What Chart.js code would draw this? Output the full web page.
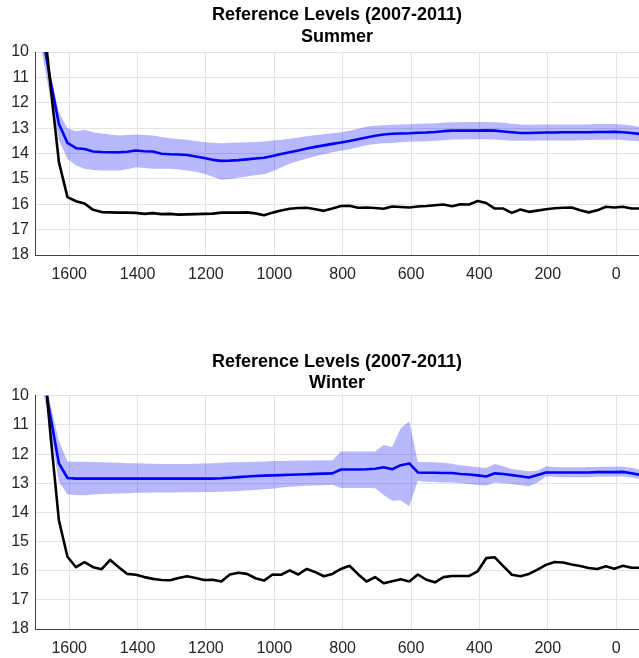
<!DOCTYPE html>
<html><head><meta charset="utf-8">
<script src="https://cdn.jsdelivr.net/npm/chart.js@4.4.0/dist/chart.umd.min.js"></script>
<style>
html,body{margin:0;padding:0;background:#fff;overflow:hidden;width:639px;height:658px;}
.panel{position:absolute;left:0;width:639px;}
canvas{display:block;}
</style></head><body>
<div class="panel" style="top:0;height:290px"><canvas id="c1" width="639" height="290"></canvas></div>
<div class="panel" style="top:344px;height:320px"><canvas id="c2" width="639" height="320"></canvas></div>
<script>
const mainTitle = "Reference Levels (2007-2011)";
const panelNames = ["Summer", "Winter"];
const xTickValues = [1600, 1400, 1200, 1000, 800, 600, 400, 200, 0];

const depths = [1680,1655,1630,1605,1580,1555,1530,1505,1480,1455,
1430,1405,1380,1355,1330,1305,1280,1255,1230,1205,
1180,1155,1130,1105,1080,1055,1030,1005,980,955,
930,905,880,855,830,805,780,755,730,705,
680,655,630,605,580,555,530,505,480,455,
430,405,380,355,330,305,280,255,230,205,
180,155,130,105,80,55,30,5,-20,-45,
-70];

const summerBlack = [8.0,11.3,14.34,15.72,15.88,15.97,16.22,16.31,16.32,16.33,
16.33,16.34,16.38,16.35,16.39,16.38,16.41,16.40,16.39,16.38,
16.37,16.33,16.33,16.33,16.32,16.36,16.43,16.33,16.25,16.18,
16.15,16.14,16.20,16.26,16.17,16.07,16.06,16.14,16.13,16.15,
16.18,16.09,16.11,16.13,16.09,16.07,16.04,16.01,16.08,16.00,
16.01,15.87,15.95,16.17,16.17,16.34,16.21,16.30,16.25,16.20,
16.16,16.14,16.13,16.24,16.32,16.24,16.10,16.13,16.10,16.17,
16.17];

const summerBlue = [9.2,11.1,12.84,13.58,13.79,13.82,13.92,13.94,13.95,13.95,
13.93,13.88,13.91,13.92,14.01,14.03,14.04,14.06,14.12,14.18,
14.25,14.29,14.28,14.26,14.23,14.20,14.17,14.10,14.02,13.95,
13.88,13.80,13.74,13.68,13.62,13.57,13.51,13.44,13.37,13.30,
13.25,13.22,13.21,13.20,13.18,13.17,13.15,13.12,13.10,13.10,
13.10,13.10,13.09,13.10,13.13,13.16,13.19,13.19,13.18,13.17,
13.17,13.16,13.16,13.16,13.16,13.15,13.15,13.14,13.16,13.19,
13.23];

const summerUpper = [8.5,10.87,12.38,13.00,13.12,13.06,13.16,13.21,13.25,13.29,
13.27,13.25,13.27,13.29,13.35,13.40,13.43,13.46,13.51,13.56,
13.58,13.60,13.58,13.57,13.56,13.55,13.53,13.49,13.46,13.42,
13.37,13.32,13.28,13.24,13.20,13.16,13.10,13.02,12.95,12.91,
12.89,12.87,12.86,12.85,12.83,12.82,12.81,12.79,12.77,12.77,
12.76,12.76,12.76,12.77,12.79,12.83,12.86,12.87,12.86,12.86,
12.86,12.86,12.86,12.86,12.85,12.84,12.84,12.84,12.86,12.90,
12.95];

const summerLower = [10.0,11.79,13.49,14.21,14.47,14.60,14.65,14.67,14.67,14.67,
14.62,14.54,14.57,14.60,14.60,14.60,14.63,14.67,14.72,14.80,
14.92,15.03,15.00,14.96,14.91,14.86,14.82,14.70,14.55,14.40,
14.30,14.20,14.11,14.03,13.95,13.89,13.83,13.75,13.67,13.63,
13.60,13.59,13.56,13.54,13.53,13.52,13.50,13.48,13.45,13.45,
13.44,13.44,13.44,13.45,13.47,13.50,13.50,13.50,13.49,13.49,
13.49,13.49,13.49,13.48,13.47,13.46,13.46,13.45,13.47,13.50,
13.52];

const winterBlack = [8.0,11.3,14.28,15.52,15.88,15.71,15.88,15.95,15.63,15.88,
16.11,16.14,16.22,16.28,16.32,16.33,16.25,16.19,16.25,16.32,
16.31,16.37,16.13,16.07,16.11,16.26,16.34,16.13,16.14,15.99,
16.13,15.94,16.05,16.19,16.11,15.94,15.83,16.12,16.37,16.22,
16.43,16.36,16.29,16.37,16.13,16.31,16.40,16.22,16.18,16.18,
16.18,16.02,15.57,15.54,15.84,16.14,16.19,16.11,15.96,15.80,
15.70,15.72,15.79,15.84,15.91,15.94,15.85,15.93,15.83,15.90,
15.90];

const winterBlue = [9.0,10.7,12.32,12.82,12.84,12.84,12.84,12.84,12.84,12.84,
12.84,12.84,12.84,12.84,12.84,12.84,12.84,12.84,12.84,12.84,
12.84,12.83,12.81,12.79,12.77,12.75,12.74,12.73,12.72,12.71,
12.70,12.69,12.68,12.67,12.66,12.53,12.53,12.53,12.52,12.50,
12.45,12.52,12.38,12.32,12.63,12.64,12.64,12.65,12.65,12.68,
12.70,12.73,12.77,12.66,12.68,12.72,12.76,12.80,12.72,12.63,
12.63,12.63,12.63,12.63,12.63,12.62,12.62,12.62,12.61,12.66,
12.71];

const winterUpper = [8.6,10.3,11.55,12.25,12.26,12.26,12.27,12.28,12.29,12.30,
12.31,12.31,12.32,12.33,12.34,12.34,12.34,12.34,12.33,12.32,
12.31,12.30,12.28,12.28,12.27,12.26,12.25,12.24,12.24,12.23,
12.22,12.22,12.21,12.21,12.22,11.91,11.91,11.91,11.91,11.91,
11.69,11.76,11.11,10.87,12.27,12.27,12.28,12.30,12.33,12.38,
12.42,12.45,12.48,12.34,12.42,12.51,12.55,12.59,12.57,12.42,
12.44,12.45,12.45,12.45,12.44,12.44,12.43,12.43,12.43,12.47,
12.54];

const winterLower = [9.6,11.2,12.95,13.39,13.40,13.41,13.39,13.37,13.36,13.35,
13.34,13.33,13.33,13.32,13.32,13.32,13.31,13.31,13.31,13.30,
13.30,13.29,13.28,13.27,13.25,13.23,13.21,13.19,13.15,13.12,
13.10,13.09,13.08,13.07,13.05,13.16,13.16,13.16,13.16,13.17,
13.40,13.60,13.58,13.79,12.91,12.95,12.96,12.97,12.97,13.00,
13.03,13.06,13.08,12.97,13.00,13.03,13.07,13.10,12.97,12.77,
12.78,12.79,12.79,12.79,12.79,12.78,12.78,12.77,12.77,12.80,
12.85];

Chart.defaults.font.family = "'Liberation Sans', Arial, Helvetica, sans-serif";

function pts(arr) { return depths.map((d, i) => ({x: d, y: arr[i]})); }

function makeChart(id, name, black, blue, upper, lower, titlePad) {
  return new Chart(document.getElementById(id), {
    type: 'line',
    data: {
      datasets: [
        {label: 'Model', data: pts(black), borderColor: '#000000', borderWidth: 2.6, pointRadius: 0, tension: 0, fill: false, borderJoinStyle: 'round'},
        {label: 'Reference', data: pts(blue), borderColor: '#0000ff', borderWidth: 2.6, pointRadius: 0, tension: 0, fill: false, borderJoinStyle: 'round'},
        {label: 'upper', data: pts(upper), borderWidth: 0, borderColor: 'rgba(0,0,0,0)', backgroundColor: 'rgba(0,0,255,0.28)', pointRadius: 0, tension: 0, fill: '+1'},
        {label: 'lower', data: pts(lower), borderWidth: 0, borderColor: 'rgba(0,0,0,0)', pointRadius: 0, tension: 0, fill: false}
      ]
    },
    options: {
      responsive: false,
      animation: false,
      devicePixelRatio: 1,
      layout: {padding: 0},
      plugins: {
        legend: {display: false},
        tooltip: {enabled: false},
        title: {
          display: true,
          text: [mainTitle, name],
          fullSize: false,
          color: '#000000',
          font: {size: 18, weight: 'bold', lineHeight: 1.2},
          padding: titlePad
        }
      },
      scales: {
        x: {
          type: 'linear',
          reverse: true,
          min: -67,
          max: 1700,
          afterBuildTicks: s => { s.ticks = xTickValues.map(v => ({value: v})); },
          afterFit: s => { s.height = 35; },
          grid: {color: '#e2e2e2', drawTicks: false, lineWidth: 1},
          border: {display: true, color: '#404040', width: 1},
          ticks: {color: '#262626', font: {size: 16}, padding: 10, autoSkip: false, maxRotation: 0,
                  callback: v => String(v)}
        },
        y: {
          reverse: true,
          min: 10,
          max: 18,
          afterFit: s => { s.width = 35; },
          grid: {color: '#e2e2e2', drawTicks: false, lineWidth: 1},
          border: {display: true, color: '#404040', width: 1},
          ticks: {stepSize: 1, color: '#262626', font: {size: 16}, padding: 6, callback: v => String(v)}
        }
      }
    }
  });
}

makeChart('c1', panelNames[0], summerBlack, summerBlue, summerUpper, summerLower, {top: 4.5, bottom: 4.3});
makeChart('c2', panelNames[1], winterBlack, winterBlue, winterUpper, winterLower, {top: 7, bottom: 1.6});
</script>
</body></html>
